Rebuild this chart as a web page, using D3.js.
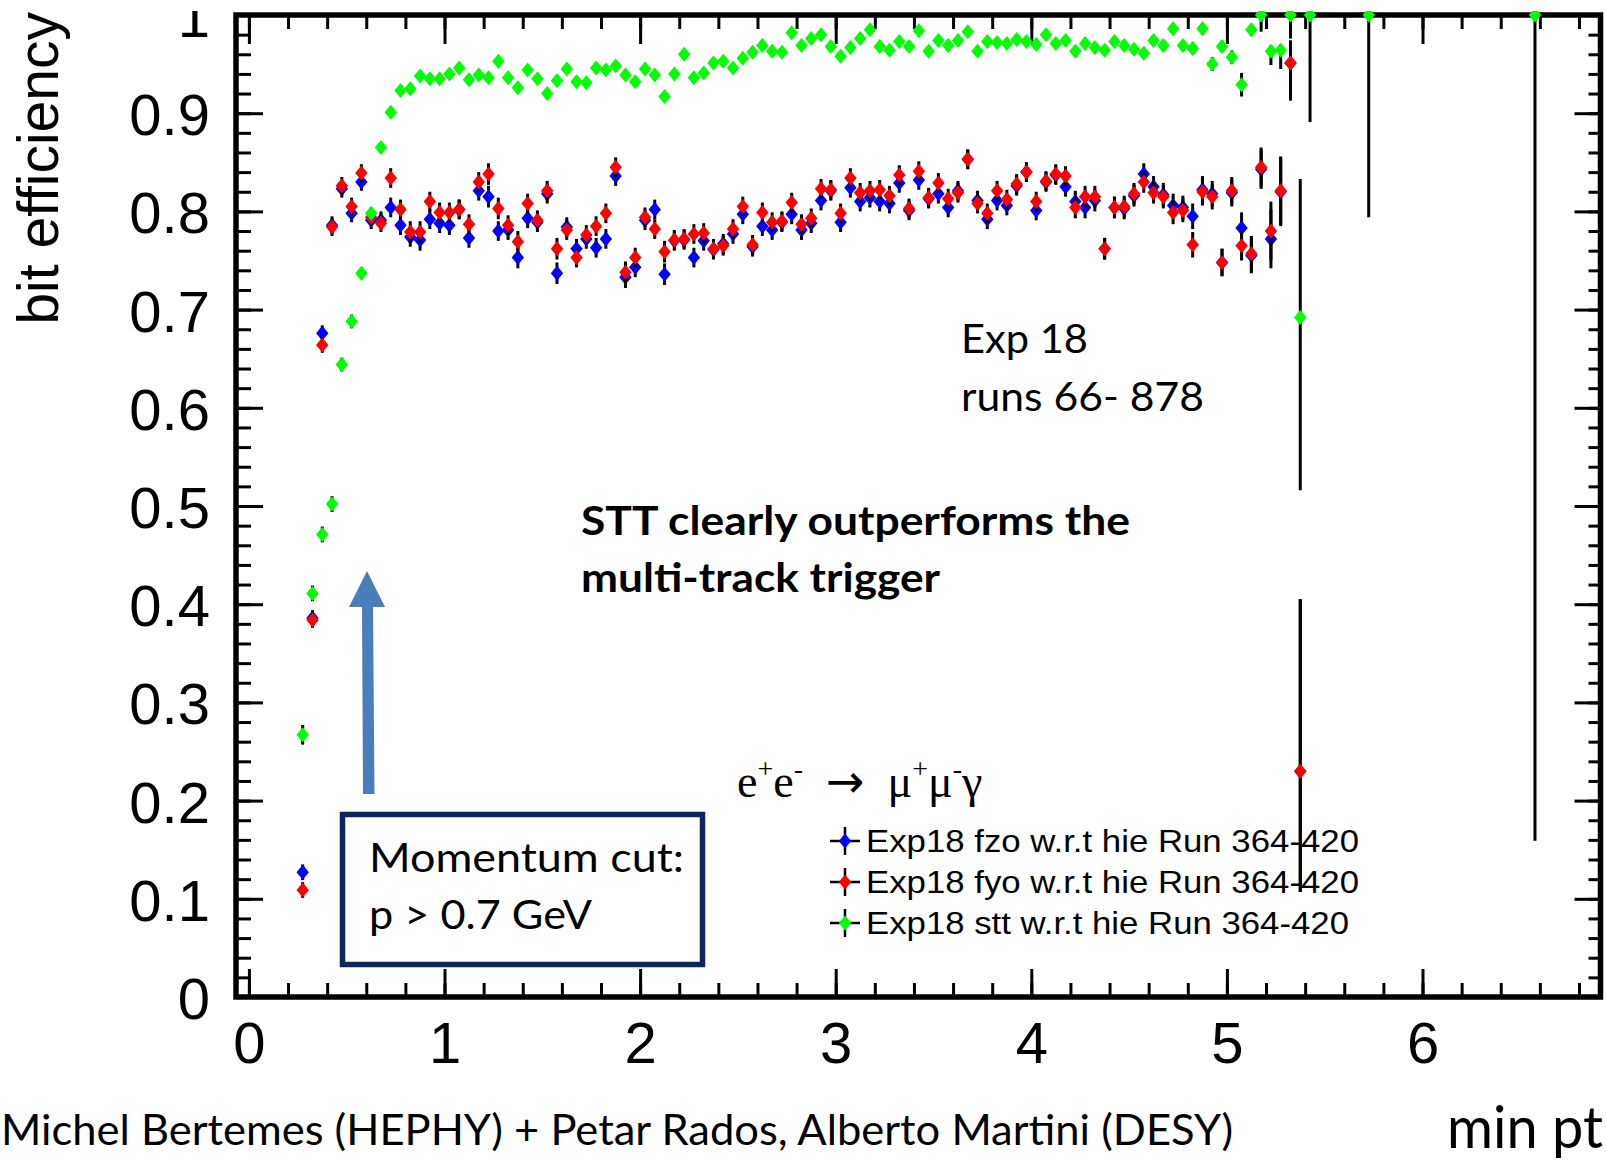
<!DOCTYPE html>
<html>
<head>
<meta charset="utf-8">
<script src="https://cdn.jsdelivr.net/npm/d3@7"></script>
<style>
  html, body { margin: 0; padding: 0; background: #fff; }
  svg { display: block; }
</style>
</head>
<body>
<svg id="chart" width="1606" height="1160"></svg>
<script>
// min pt bin centres (GeV)
const ptBins = [
  0.275,0.325,0.375,0.425,0.475,0.525,0.575,0.625,0.675,0.725,
  0.775,0.825,0.875,0.925,0.975,1.025,1.075,1.125,1.175,1.225,
  1.275,1.325,1.375,1.425,1.475,1.525,1.575,1.625,1.675,1.725,
  1.775,1.825,1.875,1.925,1.975,2.025,2.075,2.125,2.175,2.225,
  2.275,2.325,2.375,2.425,2.475,2.525,2.575,2.625,2.675,2.725,
  2.775,2.825,2.875,2.925,2.975,3.025,3.075,3.125,3.175,3.225,
  3.275,3.325,3.375,3.425,3.475,3.525,3.575,3.625,3.675,3.725,
  3.775,3.825,3.875,3.925,3.975,4.025,4.075,4.125,4.175,4.225,
  4.275,4.325,4.375,4.425,4.475,4.525,4.575,4.625,4.675,4.725,
  4.775,4.825,4.875,4.925,4.975,5.025,5.075,5.125,5.175,5.225,
  5.275,5.325,5.375,5.425,5.725,6.575
];

// Exp18 fzo w.r.t hie
const fzo = [
  0.127,0.386,0.676,0.786,0.823,0.798,0.830,0.791,0.791,0.804,
  0.786,0.774,0.771,0.792,0.788,0.786,0.802,0.773,0.821,0.815,
  0.780,0.781,0.753,0.793,0.789,0.818,0.737,0.784,0.762,0.772,
  0.763,0.772,0.836,0.733,0.743,0.791,0.802,0.736,0.770,0.771,
  0.753,0.770,0.761,0.767,0.777,0.797,0.764,0.785,0.781,0.789,
  0.797,0.781,0.788,0.811,0.821,0.789,0.824,0.810,0.814,0.810,
  0.808,0.829,0.801,0.832,0.813,0.818,0.804,0.821,0.853,0.811,
  0.792,0.811,0.806,0.826,0.840,0.801,0.830,0.837,0.825,0.810,
  0.804,0.811,0.762,0.804,0.803,0.816,0.838,0.825,0.817,0.806,
  0.804,0.795,0.822,0.818,0.748,0.819,0.783,0.755,0.843,0.772,
  0.820,0.951,0.230,null,null,null
];

// Exp18 fyo w.r.t hie
const fyo = [
  0.109,0.384,0.664,0.784,0.826,0.805,0.839,0.794,0.788,0.834,
  0.802,0.779,0.779,0.810,0.799,0.799,0.802,0.787,0.830,0.838,
  0.803,0.786,0.769,0.808,0.791,0.821,0.762,0.781,0.753,0.776,
  0.785,0.798,0.845,0.738,0.753,0.794,0.782,0.759,0.771,0.772,
  0.777,0.778,0.762,0.765,0.782,0.805,0.766,0.799,0.789,0.790,
  0.809,0.787,0.793,0.823,0.822,0.798,0.834,0.819,0.821,0.822,
  0.816,0.837,0.803,0.841,0.814,0.829,0.813,0.819,0.853,0.808,
  0.798,0.821,0.812,0.828,0.840,0.810,0.831,0.838,0.836,0.804,
  0.815,0.815,0.762,0.804,0.805,0.818,0.830,0.819,0.815,0.799,
  0.801,0.766,0.820,0.815,0.748,0.821,0.765,0.757,0.845,0.780,
  0.821,0.951,0.230,null,null,null
];

// Exp18 stt w.r.t hie
const stt = [
  0.267,0.411,0.471,0.502,0.644,0.688,0.737,0.798,0.865,0.901,
  0.923,0.925,0.938,0.935,0.935,0.940,0.946,0.934,0.939,0.936,
  0.953,0.936,0.926,0.944,0.935,0.920,0.933,0.945,0.932,0.931,
  0.946,0.944,0.948,0.939,0.932,0.945,0.939,0.917,0.940,0.960,
  0.936,0.941,0.951,0.953,0.946,0.956,0.962,0.969,0.963,0.962,
  0.982,0.969,0.976,0.980,0.968,0.958,0.967,0.976,0.985,0.968,
  0.964,0.973,0.968,0.984,0.963,0.974,0.969,0.974,0.983,0.963,
  0.973,0.972,0.971,0.975,0.973,0.970,0.980,0.971,0.974,0.963,
  0.971,0.967,0.964,0.973,0.969,0.965,0.961,0.974,0.969,0.986,
  0.969,0.966,0.986,0.950,0.968,0.957,0.929,0.985,1.000,0.963,
  0.964,1.000,0.692,1.000,1.000,1.000
];

// errors: a number is symmetric, a pair is [down, up]
const fzoErr = [
  0.008,0.008,0.008,0.009,0.009,0.009,0.009,0.009,0.009,0.010,
  0.010,0.010,0.011,0.010,0.010,0.010,0.010,0.010,0.010,0.011,
  0.010,0.010,0.011,0.010,0.010,0.010,0.011,0.010,0.010,0.010,
  0.010,0.010,0.010,0.011,0.010,0.010,0.010,0.011,0.010,0.010,
  0.010,0.010,0.010,0.010,0.010,0.010,0.010,0.010,0.010,0.010,
  0.010,0.010,0.010,0.010,0.010,0.010,0.010,0.010,0.010,0.010,
  0.010,0.010,0.010,0.010,0.010,0.010,0.010,0.010,0.010,0.010,
  0.010,0.010,0.010,0.010,0.010,0.010,0.010,0.010,0.010,0.011,
  0.011,0.011,0.011,0.011,0.011,0.011,0.011,0.011,0.012,0.012,
  0.012,0.013,0.014,0.013,0.014,0.014,0.016,0.018,0.020,0.030,
  0.035,[0.038,0.023],[0.123,0.175],null,null,null
];
const fyoErr = [
  0.008,0.008,0.008,0.009,0.009,0.009,0.009,0.009,0.009,0.010,
  0.010,0.011,0.011,0.010,0.010,0.010,0.010,0.010,0.010,0.011,
  0.011,0.010,0.011,0.010,0.010,0.010,0.011,0.010,0.010,0.010,
  0.010,0.010,0.010,0.011,0.010,0.010,0.010,0.011,0.010,0.010,
  0.010,0.010,0.010,0.010,0.010,0.010,0.010,0.010,0.010,0.010,
  0.010,0.010,0.010,0.010,0.010,0.010,0.010,0.010,0.010,0.010,
  0.010,0.010,0.010,0.010,0.010,0.010,0.010,0.010,0.010,0.010,
  0.010,0.010,0.010,0.010,0.010,0.010,0.010,0.010,0.010,0.011,
  0.011,0.011,0.011,0.011,0.011,0.011,0.011,0.011,0.012,0.012,
  0.012,0.013,0.014,0.013,0.014,0.014,0.015,0.018,0.020,0.030,
  0.035,[0.038,0.023],[0.123,0.175],null,null,null
];
const sttErr = [
  0.010,0.008,0.008,0.008,0.007,0.007,0.006,0.006,0.005,0.005,
  0.005,0.005,0.005,0.005,0.005,0.005,0.005,0.005,0.005,0.005,
  0.005,0.005,0.005,0.005,0.005,0.005,0.005,0.005,0.005,0.005,
  0.005,0.005,0.005,0.005,0.005,0.005,0.005,0.005,0.005,0.005,
  0.005,0.005,0.005,0.005,0.005,0.005,0.005,0.005,0.005,0.005,
  0.005,0.005,0.005,0.005,0.005,0.005,0.005,0.005,0.005,0.005,
  0.005,0.005,0.005,0.005,0.005,0.005,0.005,0.005,0.005,0.005,
  0.005,0.005,0.005,0.005,0.005,0.005,0.005,0.005,0.005,0.005,
  0.005,0.005,0.005,0.005,0.005,0.005,0.005,0.005,0.005,0.005,
  0.005,0.006,0.006,0.007,0.006,0.007,0.012,0.006,[0.017,0],[0.014,0.006],
  [0.019,0.006],[0.024,0],[0.176,0.141],[0.109,0],[0.206,0],[0.841,0]
];

const xTickValues = [0, 1, 2, 3, 4, 5, 6];
const xTickLabels = ["0", "1", "2", "3", "4", "5", "6"];
const yTickValues = [0, 0.1, 0.2, 0.3, 0.4, 0.5, 0.6, 0.7, 0.8, 0.9, 1];
const yTickLabels = ["0", "0.1", "0.2", "0.3", "0.4", "0.5", "0.6", "0.7", "0.8", "0.9", "1"];

const seriesNames = [
  "Exp18 fzo w.r.t hie Run 364-420",
  "Exp18 fyo w.r.t hie Run 364-420",
  "Exp18 stt w.r.t hie Run 364-420"
];
const seriesColors = ["#0000ff", "#ff0000", "#00ff00"];

// reaction label pieces: [text, superscript?]
const reaction = [["e",0],["+",1],["e",0],["-",1],["\u2002\u2192\u2002",0],["\u03bc",0],["+",1],["\u03bc",0],["-",1],["\u03b3",0]];

const ROOT_FONT = "'Liberation Sans', Arial, sans-serif";
const SERIF_FONT = "'Liberation Serif', 'Times New Roman', serif";
const SLIDE_FONT = "Lato, 'Open Sans', sans-serif";

const svg = d3.select("#chart");
svg.append("rect").attr("width", 1606).attr("height", 1160).attr("fill", "#fff");

svg.append("defs").append("clipPath").attr("id", "pageClip")
  .append("rect").attr("x", 0).attr("y", 11).attr("width", 1606).attr("height", 1149);

const root = svg.append("g").attr("clip-path", "url(#pageClip)");

const x = d3.scaleLinear().domain([-0.066, 6.91]).range([236, 1600.5]);
const y = d3.scaleLinear().domain([0, 1]).range([997, 15]);

// ---- axes with ticks on all four sides, pointing inward ----
const minorX = d3.range(0, 6.81, 0.2);
const minorY = d3.range(0, 1.0001, 0.02);

function styleAxis(g) {
  g.select(".domain").remove();
  g.selectAll(".tick line").attr("stroke", "#000").attr("stroke-width", 3);
  g.attr("font-family", ROOT_FONT).attr("font-size", 58);
  g.selectAll(".tick text").attr("fill", "#000");
}

root.append("g").attr("transform", "translate(0,997)")
  .call(d3.axisBottom(x).tickValues(minorX).tickSize(-14).tickFormat("")).call(styleAxis);
root.append("g").attr("transform", "translate(0,997)")
  .call(d3.axisBottom(x).tickValues(xTickValues).tickSize(-28).tickPadding(25)
    .tickFormat((d, i) => xTickLabels[i])).call(styleAxis);

root.append("g").attr("transform", "translate(0,15)")
  .call(d3.axisTop(x).tickValues(minorX).tickSize(-14).tickFormat("")).call(styleAxis);
root.append("g").attr("transform", "translate(0,15)")
  .call(d3.axisTop(x).tickValues(xTickValues).tickSize(-29).tickFormat("")).call(styleAxis);

root.append("g").attr("transform", "translate(236,0)")
  .call(d3.axisLeft(y).tickValues(minorY).tickSize(-15).tickFormat("")).call(styleAxis);
root.append("g").attr("transform", "translate(236,0)")
  .call(d3.axisLeft(y).tickValues(yTickValues).tickSize(-27).tickPadding(26)
    .tickFormat((d, i) => yTickLabels[i])).call(styleAxis)
  .call(g => g.selectAll(".tick text").attr("dy", "0.37em"));

root.append("g").attr("transform", "translate(1600.5,0)")
  .call(d3.axisRight(y).tickValues(minorY).tickSize(-12).tickFormat("")).call(styleAxis);
root.append("g").attr("transform", "translate(1600.5,0)")
  .call(d3.axisRight(y).tickValues(yTickValues).tickSize(-26).tickFormat("")).call(styleAxis);

// frame
root.append("rect")
  .attr("x", x.range()[0]).attr("y", y.range()[1])
  .attr("width", x.range()[1] - x.range()[0]).attr("height", y.range()[0] - y.range()[1])
  .attr("fill", "none").attr("stroke", "#000").attr("stroke-width", 5.5);

// y title
root.append("text")
  .attr("transform", "translate(58,12) rotate(-90)")
  .attr("text-anchor", "end")
  .attr("font-family", ROOT_FONT).attr("font-size", 57)
  .text("bit efficiency");

// ---- data points ----
const diamond = "M0,-7.5L6.2,0L0,7.5L-6.2,0Z";
const errDown = e => Array.isArray(e) ? e[0] : e;
const errUp = e => Array.isArray(e) ? e[1] : e;

function drawSeries(values, errs, color) {
  const pts = ptBins.map((b, i) => ({ pt: b, v: values[i], e: errs[i] })).filter(d => d.v != null);
  const g = root.append("g");
  g.selectAll("line").data(pts).join("line")
    .attr("x1", d => x(d.pt)).attr("x2", d => x(d.pt))
    .attr("y1", d => y(Math.min(1, d.v + errUp(d.e))))
    .attr("y2", d => y(Math.max(0, d.v - errDown(d.e))))
    .attr("stroke", "#000").attr("stroke-width", 3);
  g.selectAll("path").data(pts).join("path")
    .attr("d", diamond)
    .attr("transform", d => `translate(${x(d.pt)},${y(d.v)})`)
    .attr("fill", color);
}
drawSeries(fzo, fzoErr, seriesColors[0]);
drawSeries(fyo, fyoErr, seriesColors[1]);
drawSeries(stt, sttErr, seriesColors[2]);

// ---- legend ----
const reactionText = root.append("text")
  .attr("x", 737).attr("y", 797)
  .attr("font-family", SERIF_FONT).attr("font-size", 46);
reaction.forEach(([t, sup], i) => {
  const prevSup = i > 0 && reaction[i - 1][1];
  const dy = sup && !prevSup ? -19 : (!sup && prevSup ? 19 : 0);
  const isArrow = t.includes("\u2192");
  reactionText.append("tspan").attr("dy", dy)
    .attr("font-size", sup ? 28 : 46)
    .attr("font-family", isArrow ? "'DejaVu Sans', sans-serif" : SERIF_FONT)
    .text(t);
});

const legend = root.append("g");
seriesNames.forEach((name, i) => {
  const cy = 841 + 41 * i;
  const row = legend.append("g");
  row.append("line").attr("x1", 830).attr("x2", 860).attr("y1", cy).attr("y2", cy)
    .attr("stroke", "#000").attr("stroke-width", 2.5);
  row.append("line").attr("x1", 845).attr("x2", 845).attr("y1", cy - 14).attr("y2", cy + 14)
    .attr("stroke", "#000").attr("stroke-width", 2.5);
  row.append("path").attr("d", diamond).attr("transform", `translate(845,${cy})`)
    .attr("fill", seriesColors[i]);
  row.append("text").attr("x", 866).attr("y", cy + 11)
    .attr("font-family", ROOT_FONT).attr("font-size", 32)
    .attr("textLength", [493, 493, 483][i]).attr("lengthAdjust", "spacingAndGlyphs")
    .text(name);
});

// ---- slide annotations ----
function slideText(str, xPos, yPos, size, width, weight) {
  return root.append("text").attr("x", xPos).attr("y", yPos)
    .attr("font-family", SLIDE_FONT).attr("font-size", size)
    .attr("font-weight", weight || 400)
    .attr("textLength", width).attr("lengthAdjust", "spacingAndGlyphs")
    .attr("fill", "#000").text(str);
}

slideText("Exp 18", 961, 353, 40, 127);
slideText("runs 66- 878", 961, 411, 40, 243);
slideText("STT clearly outperforms the", 581, 535, 40, 549, 700);
slideText("multi-track trigger", 581, 592, 40, 359, 700);

// arrow pointing at the momentum cut
root.append("path")
  .attr("d", "M363,794 L374.5,794 L373,607 L385,607 L367,571 L349,607 L362,607 Z")
  .attr("fill", "#4a7ebb");

root.append("rect")
  .attr("x", 342.5).attr("y", 814.5).attr("width", 360).attr("height", 150)
  .attr("fill", "#fff").attr("stroke", "#0e2660").attr("stroke-width", 5.5);
slideText("Momentum cut:", 369, 872, 40, 315);
slideText("p > 0.7 GeV", 369, 929, 40, 223);

slideText("Michel Bertemes (HEPHY) + Petar Rados, Alberto Martini (DESY)", 1, 1145, 42, 1232);
slideText("min pt", 1447, 1148, 59, 156);
</script>
</body>
</html>
